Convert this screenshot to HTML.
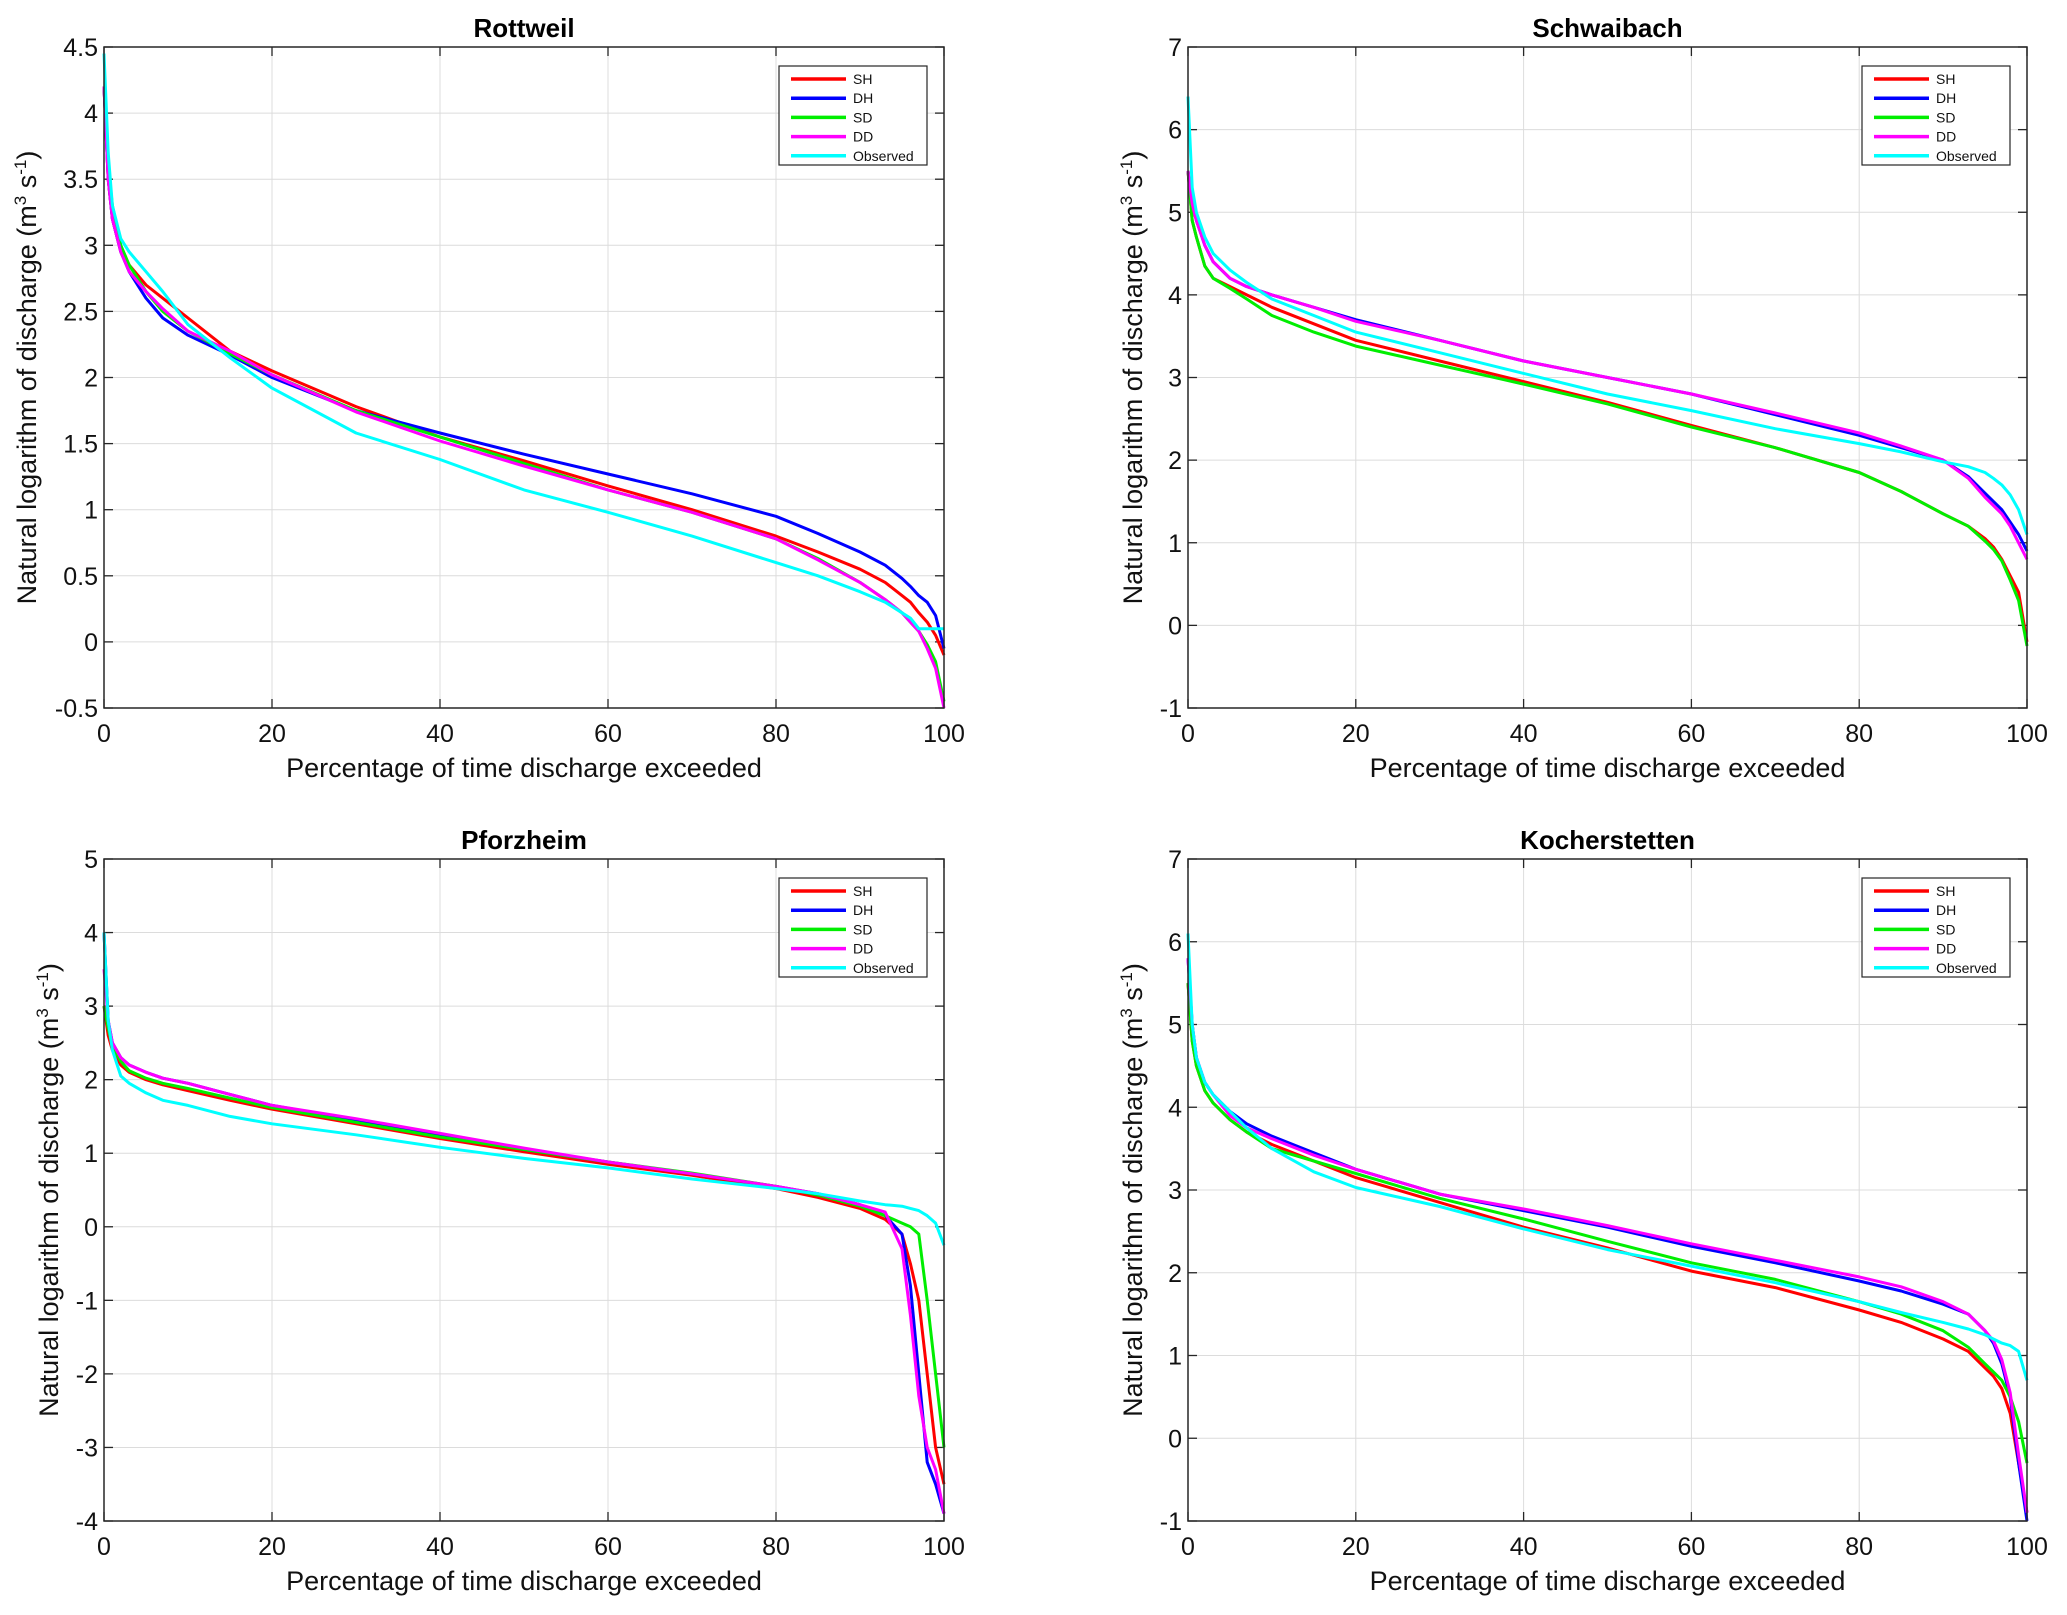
<!DOCTYPE html>
<html><head><meta charset="utf-8">
<style>
html,body{margin:0;padding:0;background:#fff;}
svg{display:block;font-family:"Liberation Sans",Arial,sans-serif;}
</style></head>
<body>
<svg id="chart" width="2067" height="1615" viewBox="0 0 2067 1615" xmlns="http://www.w3.org/2000/svg"></svg>
<script>
const xPct = [0,0.5,1,2,3,5,7,10,15,20,30,40,50,60,70,80,85,90,93,95,96,97,98,99,100];
const seriesNames = ["SH","DH","SD","DD","Observed"];
const seriesColors = ["#ff0000","#0000ff","#00ee00","#ff00ff","#00ffff"];
const xTicks = [0,20,40,60,80,100];

const rottSH  = [4.2,3.5,3.2,2.95,2.85,2.7,2.6,2.45,2.2,2.05,1.78,1.55,1.37,1.18,1.0,0.8,0.68,0.55,0.45,0.35,0.3,0.22,0.15,0.05,-0.1];
const rottDH  = [4.2,3.5,3.2,2.95,2.8,2.6,2.45,2.32,2.17,2.0,1.75,1.58,1.42,1.27,1.12,0.95,0.82,0.68,0.58,0.48,0.42,0.35,0.3,0.2,-0.05];
const rottSD  = [4.2,3.6,3.3,3.0,2.85,2.65,2.5,2.35,2.18,2.02,1.75,1.55,1.35,1.15,0.98,0.78,0.63,0.45,0.32,0.22,0.15,0.08,-0.02,-0.15,-0.45];
const rottDD  = [4.2,3.5,3.2,2.95,2.8,2.65,2.52,2.35,2.2,2.02,1.74,1.52,1.33,1.15,0.98,0.78,0.62,0.45,0.32,0.22,0.15,0.08,-0.05,-0.2,-0.5];
const rottObs = [4.45,3.7,3.3,3.05,2.95,2.8,2.65,2.4,2.15,1.92,1.58,1.38,1.15,0.98,0.8,0.6,0.5,0.38,0.3,0.22,0.18,0.1,0.1,0.1,0.1];
const rottTicks = [-0.5,0,0.5,1,1.5,2,2.5,3,3.5,4,4.5];

const schwSH  = [5.5,4.9,4.7,4.35,4.2,4.1,4.0,3.85,3.65,3.45,3.2,2.95,2.7,2.42,2.15,1.85,1.62,1.35,1.2,1.05,0.95,0.8,0.6,0.4,-0.2];
const schwDH  = [5.5,5.1,4.9,4.6,4.4,4.2,4.1,4.0,3.85,3.7,3.45,3.2,3.0,2.8,2.55,2.3,2.15,2.0,1.8,1.6,1.5,1.4,1.25,1.1,0.9];
const schwSD  = [5.5,4.9,4.7,4.35,4.2,4.08,3.95,3.75,3.55,3.38,3.15,2.92,2.68,2.4,2.15,1.85,1.62,1.35,1.2,1.02,0.92,0.78,0.55,0.3,-0.25];
const schwDD  = [5.5,5.1,4.9,4.6,4.4,4.2,4.1,4.0,3.85,3.68,3.45,3.2,3.0,2.8,2.57,2.33,2.17,2.0,1.78,1.55,1.45,1.35,1.2,1.0,0.8];
const schwObs = [6.4,5.3,5.0,4.7,4.5,4.3,4.15,3.95,3.75,3.55,3.3,3.05,2.8,2.6,2.38,2.2,2.1,1.98,1.92,1.85,1.78,1.7,1.58,1.4,1.1];
const schwTicks = [-1,0,1,2,3,4,5,6,7];

const pforSH  = [3.0,2.6,2.4,2.2,2.1,2.0,1.93,1.85,1.72,1.6,1.4,1.2,1.02,0.85,0.7,0.52,0.4,0.25,0.1,-0.1,-0.5,-1.0,-2.0,-3.0,-3.5];
const pforDH  = [4.0,2.8,2.5,2.3,2.2,2.1,2.02,1.95,1.8,1.65,1.45,1.25,1.05,0.88,0.72,0.55,0.45,0.3,0.15,-0.1,-0.8,-2.0,-3.2,-3.5,-3.9];
const pforSD  = [3.0,2.7,2.45,2.25,2.12,2.02,1.95,1.88,1.75,1.62,1.42,1.22,1.05,0.88,0.73,0.55,0.43,0.28,0.15,0.05,0.0,-0.1,-1.0,-2.0,-3.0];
const pforDD  = [3.5,2.8,2.5,2.3,2.2,2.1,2.02,1.95,1.8,1.65,1.47,1.27,1.07,0.88,0.72,0.55,0.45,0.3,0.2,-0.3,-1.2,-2.3,-3.0,-3.3,-3.9];
const pforObs = [4.0,2.8,2.4,2.05,1.95,1.82,1.72,1.65,1.5,1.4,1.25,1.08,0.93,0.8,0.65,0.52,0.45,0.35,0.3,0.28,0.25,0.22,0.15,0.05,-0.25];
const pforTicks = [-4,-3,-2,-1,0,1,2,3,4,5];

const kochSH  = [5.5,4.8,4.5,4.2,4.05,3.85,3.7,3.55,3.35,3.15,2.85,2.55,2.3,2.02,1.82,1.55,1.4,1.2,1.05,0.85,0.75,0.6,0.3,-0.3,-0.9];
const kochDH  = [5.8,5.0,4.6,4.3,4.15,3.95,3.8,3.65,3.45,3.25,2.95,2.75,2.55,2.32,2.12,1.9,1.78,1.62,1.5,1.3,1.15,0.9,0.5,-0.3,-1.0];
const kochSD  = [5.5,4.8,4.5,4.2,4.05,3.85,3.7,3.5,3.35,3.2,2.9,2.65,2.38,2.12,1.92,1.65,1.5,1.3,1.1,0.9,0.8,0.7,0.5,0.2,-0.3];
const kochDD  = [5.8,5.0,4.6,4.3,4.15,3.9,3.75,3.62,3.42,3.25,2.95,2.77,2.57,2.35,2.15,1.95,1.83,1.65,1.5,1.3,1.18,0.95,0.55,-0.2,-0.9];
const kochObs = [6.1,5.0,4.6,4.3,4.15,3.95,3.75,3.5,3.22,3.03,2.8,2.53,2.28,2.08,1.88,1.65,1.52,1.4,1.32,1.25,1.2,1.15,1.12,1.05,0.7];
const kochTicks = [-1,0,1,2,3,4,5,6,7];

const NS = "http://www.w3.org/2000/svg";
const svg = document.getElementById("chart");
function mk(tag, attrs, parent){
  const e = document.createElementNS(NS, tag);
  for (const k in attrs) e.setAttribute(k, attrs[k]);
  (parent||svg).appendChild(e);
  return e;
}

function drawPanel(key, title, L, R, T, B, ticks, data, ylabX){
  const ymin = ticks[0], ymax = ticks[ticks.length-1];
  const sx = v => L + (v/100)*(R-L);
  const sy = v => B - (v-ymin)/(ymax-ymin)*(B-T);
  const g = mk("g", {});
  
  
  mk("rect", {x:L,y:T,width:R-L,height:B-T,fill:"#fff"}, g);
  xTicks.forEach(t => {
    const x = sx(t);
    if (t>0 && t<100) mk("line",{x1:x,y1:T,x2:x,y2:B,stroke:"#dcdcdc","stroke-width":1}, g);
    mk("line",{x1:x,y1:B,x2:x,y2:B-9,stroke:"#262626","stroke-width":1.3}, g);
    mk("line",{x1:x,y1:T,x2:x,y2:T+9,stroke:"#262626","stroke-width":1.3}, g);
    const tx = mk("text",{x:x,y:B+34,"text-anchor":"middle","font-size":25,fill:"#111"}, g);
    tx.textContent = t;
    
    
  });
  ticks.forEach(t => {
    const y = sy(t);
    if (t>ymin && t<ymax) mk("line",{x1:L,y1:y,x2:R,y2:y,stroke:"#dcdcdc","stroke-width":1}, g);
    mk("line",{x1:L,y1:y,x2:L+9,y2:y,stroke:"#262626","stroke-width":1.3}, g);
    mk("line",{x1:R,y1:y,x2:R-9,y2:y,stroke:"#262626","stroke-width":1.3}, g);
    const ty = mk("text",{x:L-6,y:y+9,"text-anchor":"end","font-size":25,fill:"#111"}, g);
    ty.textContent = t;
    
    
  });
  data.forEach((arr, i) => {
    const pts = arr.map((v, j) => sx(xPct[j]).toFixed(1) + "," + sy(v).toFixed(1)).join(" ");
    const pl = mk("polyline",{points:pts,fill:"none",stroke:seriesColors[i],"stroke-width":3,"stroke-linejoin":"round"}, g);
    
    
  });
  mk("rect",{x:L,y:T,width:R-L,height:B-T,fill:"none",stroke:"#262626","stroke-width":1.5}, g);
  const tt = mk("text",{x:(L+R)/2,y:T-10,"text-anchor":"middle","font-size":26,"font-weight":"bold",fill:"#000"}, g);
  tt.textContent = title;
  
  
  const xl = mk("text",{x:(L+R)/2,y:B+69,"text-anchor":"middle","font-size":27,fill:"#111"}, g);
  xl.textContent = "Percentage of time discharge exceeded";
  
  
  const cy = (T+B)/2;
  const yl = mk("text",{x:ylabX,y:cy,"text-anchor":"middle","font-size":27,fill:"#111",transform:`rotate(-90 ${ylabX} ${cy})`}, g);
  yl.innerHTML = 'Natural logarithm of discharge  (m<tspan font-size="17" dy="-10">3</tspan><tspan dy="10"> s</tspan><tspan font-size="17" dy="-10">-1</tspan><tspan dy="10">)</tspan>';
  
  
  const lx = R-165, ly = T+19, lw = 148, lh = 99;
  const lg = mk("g",{}, g);
  
  
  mk("rect",{x:lx,y:ly,width:lw,height:lh,fill:"#fff",stroke:"#262626","stroke-width":1.2}, lg);
  seriesNames.forEach((n,i) => {
    const yy = ly + 13 + i*19.2;
    const ll = mk("line",{x1:lx+12,y1:yy,x2:lx+67,y2:yy,stroke:seriesColors[i],"stroke-width":3.5}, lg);
    
    
    const lt = mk("text",{x:lx+74,y:yy+5,"font-size":14,fill:"#111"}, lg);
    lt.textContent = n;
    
    
  });
}

drawPanel("rottweil","Rottweil",104,944,47,708,rottTicks,[rottSH,rottDH,rottSD,rottDD,rottObs],36);
drawPanel("schwaibach","Schwaibach",1188,2027,47,708,schwTicks,[schwSH,schwDH,schwSD,schwDD,schwObs],1142);
drawPanel("pforzheim","Pforzheim",104,944,859,1521,pforTicks,[pforSH,pforDH,pforSD,pforDD,pforObs],58);
drawPanel("kocherstetten","Kocherstetten",1188,2027,859,1521,kochTicks,[kochSH,kochDH,kochSD,kochDD,kochObs],1142);
</script>
</body></html>
